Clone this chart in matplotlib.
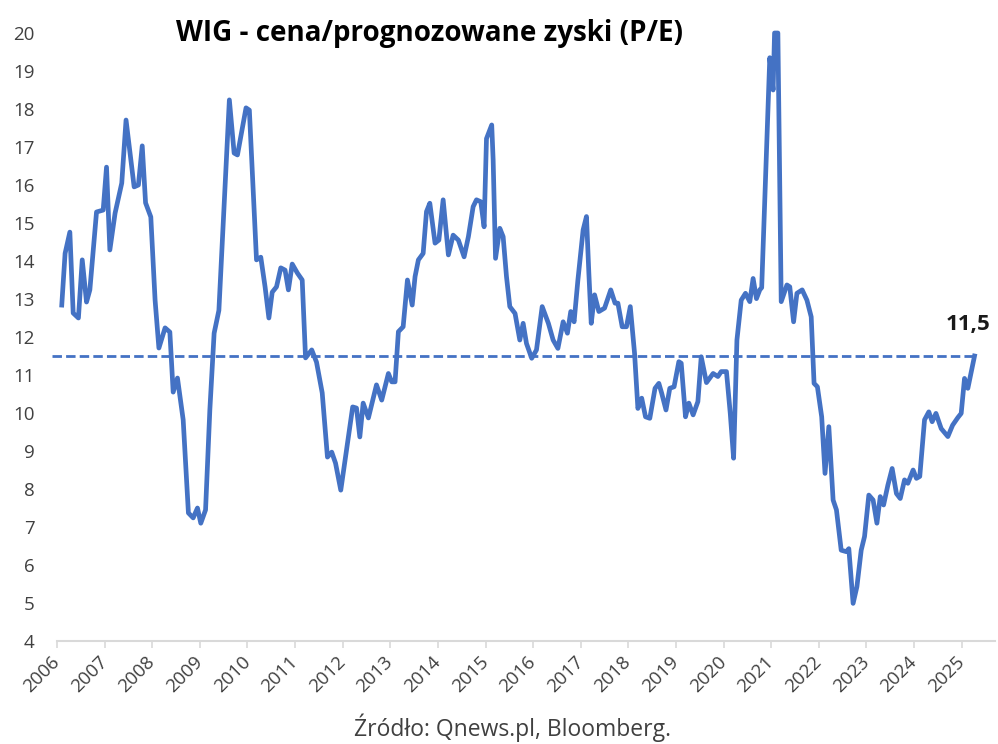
import matplotlib
matplotlib.use("Agg")
import matplotlib.pyplot as plt
from matplotlib.transforms import ScaledTranslation

plt.rcParams['font.family'] = ['Open Sans', 'DejaVu Sans']

# decimal-year dates and WIG forward P/E values
dates = [
    2006.10, 2006.17, 2006.27, 2006.34, 2006.45, 2006.53, 2006.62, 2006.69, 2006.83, 2006.97,
    2007.04, 2007.11, 2007.22, 2007.36, 2007.45, 2007.62, 2007.71, 2007.79, 2007.86, 2007.97,
    2008.06, 2008.14, 2008.27, 2008.37, 2008.44, 2008.53, 2008.65, 2008.76, 2008.86, 2008.95,
    2009.02, 2009.12, 2009.21, 2009.30, 2009.40, 2009.62, 2009.72, 2009.79, 2009.97, 2010.04,
    2010.19, 2010.28, 2010.37, 2010.45, 2010.52, 2010.61, 2010.70, 2010.79, 2010.86, 2010.94,
    2011.05, 2011.15, 2011.22, 2011.35, 2011.45, 2011.57, 2011.68, 2011.77, 2011.85, 2011.96,
    2012.08, 2012.21, 2012.29, 2012.36, 2012.43, 2012.54, 2012.71, 2012.82, 2012.96, 2013.03,
    2013.10, 2013.17, 2013.27, 2013.36, 2013.46, 2013.52, 2013.59, 2013.69, 2013.76, 2013.83,
    2013.94, 2014.02, 2014.11, 2014.22, 2014.32, 2014.43, 2014.55, 2014.64, 2014.74, 2014.81,
    2014.90, 2014.97, 2015.02, 2015.13, 2015.16, 2015.21, 2015.30, 2015.37, 2015.44, 2015.51,
    2015.62, 2015.72, 2015.79, 2015.86, 2015.97, 2016.07, 2016.19, 2016.32, 2016.42, 2016.52,
    2016.63, 2016.72, 2016.79, 2016.86, 2016.94, 2017.05, 2017.12, 2017.17, 2017.22, 2017.29,
    2017.38, 2017.50, 2017.63, 2017.72, 2017.78, 2017.87, 2017.96, 2018.04, 2018.13, 2018.20,
    2018.28, 2018.36, 2018.45, 2018.56, 2018.64, 2018.70, 2018.79, 2018.87, 2018.96, 2019.06,
    2019.11, 2019.20, 2019.27, 2019.36, 2019.46, 2019.53, 2019.60, 2019.64, 2019.78, 2019.88,
    2019.95, 2020.06, 2020.14, 2020.21, 2020.28, 2020.37, 2020.46, 2020.55, 2020.62, 2020.69,
    2020.76, 2020.80, 2020.97, 2021.04, 2021.07, 2021.14, 2021.21, 2021.33, 2021.39, 2021.47,
    2021.54, 2021.65, 2021.75, 2021.84, 2021.90, 2021.97, 2022.06, 2022.13, 2022.21, 2022.30,
    2022.37, 2022.47, 2022.58, 2022.63, 2022.72, 2022.80, 2022.89, 2022.96, 2023.05, 2023.14,
    2023.22, 2023.29, 2023.36, 2023.45, 2023.54, 2023.63, 2023.71, 2023.80, 2023.87, 2023.98,
    2024.05, 2024.12, 2024.22, 2024.31, 2024.38, 2024.46, 2024.57, 2024.71, 2024.81, 2024.92,
    2024.99, 2025.06, 2025.13, 2025.27,
]
pe_values = [
    12.84, 14.20, 14.76, 12.63, 12.50, 14.03, 12.92, 13.24, 15.29, 15.34,
    16.47, 14.29, 15.26, 16.05, 17.71, 15.95, 16.00, 17.03, 15.53, 15.16,
    12.97, 11.71, 12.24, 12.13, 10.55, 10.92, 9.82, 7.37, 7.24, 7.50,
    7.10, 7.45, 10.08, 12.10, 12.70, 18.24, 16.84, 16.79, 18.03, 17.97,
    14.03, 14.10, 13.32, 12.50, 13.18, 13.32, 13.82, 13.76, 13.24, 13.92,
    13.68, 13.50, 11.45, 11.66, 11.34, 10.53, 8.84, 8.97, 8.68, 7.97,
    9.03, 10.16, 10.13, 9.37, 10.26, 9.87, 10.74, 10.34, 11.04, 10.82,
    10.82, 12.14, 12.27, 13.50, 12.84, 13.59, 14.03, 14.20, 15.30, 15.52,
    14.47, 14.55, 15.61, 14.16, 14.68, 14.55, 14.11, 14.64, 15.43, 15.61,
    15.56, 14.90, 17.22, 17.58, 16.66, 14.07, 14.86, 14.64, 13.59, 12.80,
    12.62, 11.92, 12.36, 11.83, 11.44, 11.66, 12.80, 12.36, 11.92, 11.70,
    12.40, 12.10, 12.67, 12.40, 13.50, 14.82, 15.17, 13.68, 12.36, 13.11,
    12.67, 12.76, 13.24, 12.89, 12.89, 12.27, 12.27, 12.80, 11.57, 10.12,
    10.39, 9.90, 9.86, 10.65, 10.78, 10.52, 10.08, 10.65, 10.69, 11.35,
    11.31, 9.90, 10.26, 9.95, 10.30, 11.48, 11.04, 10.80, 11.04, 10.96,
    11.09, 11.09, 9.99, 8.81, 11.92, 12.97, 13.15, 12.93, 13.54, 13.01,
    13.24, 13.30, 19.35, 18.50, 20.00, 20.00, 12.93, 13.37, 13.32, 12.40,
    13.15, 13.24, 12.97, 12.53, 10.78, 10.69, 9.90, 8.41, 9.64, 7.71,
    7.45, 6.39, 6.35, 6.43, 4.99, 5.43, 6.39, 6.75, 7.84, 7.71,
    7.10, 7.80, 7.58, 8.10, 8.54, 7.88, 7.75, 8.24, 8.15, 8.50,
    8.28, 8.33, 9.82, 10.03, 9.77, 9.99, 9.59, 9.38, 9.68, 9.88,
    9.99, 10.91, 10.65, 11.50,
]
current_pe = 11.5
current_label = "11,5"
year_ticks = list(range(2006, 2026))
y_ticks = list(range(4, 21))
title = "WIG - cena/prognozowane zyski (P/E)"
source = "Źródło: Qnews.pl, Bloomberg."

blue = "#4472C4"
text_gray = "#404040"

fig = plt.figure(figsize=(9.98, 7.44), dpi=100)
ax = fig.add_axes([57 / 998, 1 - 641 / 744, (995 - 57) / 998, (641 - 33) / 744])

ax.plot(dates, pe_values, color=blue, lw=3.4, solid_joinstyle='round', clip_on=False, zorder=3)
ax.plot([dates[0] - 0.2, dates[-1]], [current_pe, current_pe], color=blue, lw=2.0,
        dashes=(3.4, 1.5), clip_on=False, zorder=2)

ax.set_xlim(2006, 2025.7)
ax.set_ylim(4, 20)
ax.set_yticks(y_ticks)
ax.set_yticklabels([str(v) for v in y_ticks], fontsize=13.5, color=text_gray)
ax.set_xticks(year_ticks)
ax.set_xticklabels([str(v) for v in year_ticks], fontsize=13.5, color=text_gray,
                   rotation=45, ha='right', va='center', rotation_mode='anchor')
offset = ScaledTranslation(7 / 100, -17 / 100, fig.dpi_scale_trans)
for lbl in ax.get_xticklabels():
    lbl.set_transform(lbl.get_transform() + offset)

for s in ['top', 'right', 'left']:
    ax.spines[s].set_visible(False)
ax.spines['bottom'].set_color('#D9D9D9')
ax.spines['bottom'].set_linewidth(1.5)
ax.tick_params(axis='y', length=0, pad=16)
ax.tick_params(axis='x', length=5, width=1.2, color='#D9D9D9', pad=8)

fig.text(430 / 998, 1 - 33 / 744, title, fontsize=20, fontweight='bold', color='black',
         ha='center', va='center')
ax.annotate(current_label, xy=(dates[-1], current_pe), xytext=(-5, 23), textcoords='offset points',
            fontsize=16, fontweight='bold', color='#1a1a1a', ha='center', va='center')
fig.text(513 / 998, 1 - 728 / 744, source, fontsize=16.5, color=text_gray, ha='center', va='center')

fig.savefig("out.png", dpi=100)
